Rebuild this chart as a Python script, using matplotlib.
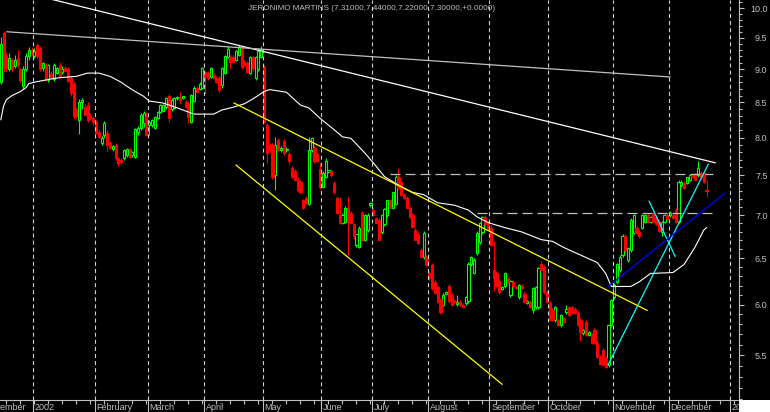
import numpy as np
import matplotlib.pyplot as plt
import matplotlib.transforms as mtransforms
from matplotlib.patches import Rectangle
from matplotlib.ticker import FixedLocator, FixedFormatter, NullFormatter

plt.rcParams['lines.scale_dashes'] = False
plt.rcParams['font.family'] = ['Liberation Sans', 'DejaVu Sans']

# ------------------------
# Daily candles, Dec 2001 .. Dec 2002 (EUR)
# ------------------------
opens = [
    8.80, 9.58, 9.20, 9.00, 9.15, 9.05, 9.17, 9.00, 8.75, 9.00, 9.20, 9.30,
    9.20, 9.38, 9.33, 9.02, 9.06, 8.84, 8.92, 8.85, 8.94, 9.06, 8.95, 9.02, 9.00, 8.86, 8.78, 8.40, 8.24, 8.50, 8.44, 8.46, 8.30, 8.28,
    8.22, 8.08, 7.93, 8.04, 8.07, 7.92, 7.85, 7.90, 7.72, 7.70, 7.73, 7.76, 7.84, 7.76, 7.74, 8.08, 8.13, 8.20, 8.30,
    8.18, 8.17, 8.14, 8.28, 8.36, 8.38, 8.43, 8.60, 8.41, 8.42, 8.56, 8.58, 8.57, 8.51, 8.49, 8.22, 8.52, 8.72, 8.70, 8.72,
    8.95, 8.94, 8.88, 8.91, 8.87, 8.87, 8.76, 8.94, 9.19, 9.19, 9.19, 9.15, 9.23, 9.32, 9.12, 9.10, 8.94, 9.19, 8.87, 9.00, 9.19,
    9.04, 8.17, 7.90, 7.90, 7.50, 7.97, 7.83, 7.95, 7.83, 7.78, 7.59, 7.55, 7.44, 7.41, 7.18, 7.21, 7.14, 7.83, 7.86, 7.78, 7.58,
    7.35, 7.48, 7.54, 7.55, 7.40, 7.21, 7.00, 6.91, 6.92, 7.09, 7.02, 6.89, 6.65, 6.63, 7.03, 6.71, 6.82, 7.12,
    7.06, 6.96, 6.94, 6.80, 6.89, 7.00, 7.18, 7.09, 7.14, 7.48, 7.41, 7.25, 7.21, 7.09, 7.00, 6.82, 6.78, 6.59, 6.51, 6.51,
    6.34, 6.42, 6.24, 6.18, 6.05, 6.00, 6.11, 6.20, 6.10, 6.04, 6.01, 6.03, 6.00, 6.02, 6.04, 6.43, 6.34, 6.56, 6.68, 6.80, 6.98, 6.91,
    6.85, 6.37, 6.34, 6.25, 6.16, 6.19, 6.27, 6.10, 6.24, 6.18, 6.08, 6.20, 6.11, 6.02, 6.03, 5.94, 5.97, 5.97, 6.43, 6.40, 6.13,
    6.02, 5.94, 5.84, 5.84, 5.79, 5.85, 5.92, 5.97, 5.97, 5.95, 5.91, 5.84, 5.71, 5.82, 5.69, 5.69, 5.74, 5.62, 5.48, 5.55, 5.47, 5.41, 5.79,
    6.08, 6.24, 6.37, 6.53, 6.75, 6.48, 6.59, 6.79, 6.85, 6.80, 6.85, 6.92, 7.00, 6.92, 7.02, 6.98, 6.92, 6.80, 6.92, 7.00,
    7.00, 7.00, 7.06, 6.92, 7.37, 7.40, 7.40, 7.44, 7.50, 7.50, 7.50, 7.52, 7.52, 7.31,
]
highs = [
    9.52, 9.62, 9.25, 9.25, 9.18, 9.22, 9.30, 9.02, 9.05, 9.25, 9.35, 9.35,
    9.33, 9.42, 9.36, 9.12, 9.10, 9.08, 8.98, 9.10, 9.04, 9.12, 9.05, 9.05, 9.04, 8.90, 8.80, 8.44, 8.55, 8.56, 8.48, 8.50, 8.34, 8.30,
    8.24, 8.12, 8.02, 8.23, 8.10, 7.95, 7.90, 7.92, 7.74, 7.72, 7.85, 7.86, 7.86, 7.82, 8.14, 8.16, 8.34, 8.38, 8.36,
    8.24, 8.26, 8.30, 8.37, 8.47, 8.48, 8.58, 8.62, 8.56, 8.58, 8.60, 8.66, 8.60, 8.53, 8.52, 8.63, 8.74, 8.74, 8.80, 9.04,
    8.98, 8.97, 9.04, 8.94, 8.89, 8.89, 9.04, 9.22, 9.36, 9.22, 9.22, 9.30, 9.38, 9.35, 9.14, 9.13, 9.21, 9.21, 9.21, 9.33, 9.36,
    9.06, 8.20, 7.93, 7.93, 8.01, 8.00, 7.88, 7.98, 7.87, 7.80, 7.62, 7.58, 7.47, 7.44, 7.20, 7.23, 8.01, 8.01, 7.90, 7.80, 7.66,
    7.55, 7.72, 7.57, 7.58, 7.42, 7.23, 7.22, 7.02, 7.11, 7.22, 7.05, 6.91, 6.78, 6.87, 7.05, 7.01, 7.02, 7.16,
    7.08, 6.98, 6.96, 7.01, 7.09, 7.19, 7.20, 7.29, 7.50, 7.59, 7.43, 7.27, 7.23, 7.11, 7.02, 6.84, 6.80, 6.61, 6.81, 6.53,
    6.36, 6.44, 6.26, 6.20, 6.07, 6.12, 6.14, 6.22, 6.12, 6.06, 6.10, 6.05, 6.02, 6.09, 6.46, 6.52, 6.50, 6.81, 6.92, 6.99, 7.00, 6.93,
    6.88, 6.69, 6.36, 6.27, 6.19, 6.35, 6.29, 6.26, 6.26, 6.20, 6.22, 6.22, 6.13, 6.05, 6.05, 6.18, 6.19, 6.40, 6.47, 6.42, 6.15,
    6.04, 5.96, 5.99, 5.86, 5.90, 5.87, 6.00, 5.99, 5.99, 5.97, 5.93, 5.86, 5.75, 5.84, 5.73, 5.71, 5.76, 5.64, 5.50, 5.57, 5.49, 5.80, 6.06,
    6.23, 6.45, 6.53, 6.77, 6.77, 6.63, 6.96, 7.01, 6.87, 6.82, 7.01, 7.01, 7.02, 6.99, 7.04, 7.00, 6.94, 6.93, 7.01, 7.02,
    7.05, 7.02, 7.08, 7.43, 7.43, 7.42, 7.48, 7.51, 7.52, 7.52, 7.69, 7.55, 7.54, 7.44,
]
lows = [
    8.78, 8.95, 8.98, 8.97, 8.95, 9.02, 9.02, 8.80, 8.70, 8.98, 9.15, 9.20,
    9.18, 9.18, 8.98, 8.98, 8.82, 8.80, 8.85, 8.82, 8.92, 8.86, 8.92, 8.95, 8.80, 8.60, 8.26, 8.28, 8.05, 8.40, 8.30, 8.22, 8.24, 8.18,
    8.05, 7.99, 7.90, 8.00, 7.82, 7.84, 7.82, 7.70, 7.62, 7.64, 7.70, 7.74, 7.72, 7.74, 7.72, 8.04, 8.10, 8.15, 8.02,
    8.04, 8.15, 8.12, 8.26, 8.34, 8.36, 8.41, 8.22, 8.38, 8.40, 8.54, 8.48, 8.55, 8.42, 8.20, 8.20, 8.50, 8.64, 8.68, 8.70,
    8.62, 8.84, 8.86, 8.85, 8.79, 8.66, 8.72, 8.92, 9.17, 9.00, 9.10, 9.13, 9.21, 9.00, 9.05, 8.94, 8.92, 8.97, 8.84, 8.98, 9.17,
    8.20, 7.66, 7.80, 7.45, 7.31, 7.80, 7.80, 7.77, 7.81, 7.64, 7.46, 7.42, 7.29, 7.26, 7.07, 7.14, 7.12, 7.80, 7.66, 7.67, 7.32,
    7.33, 7.46, 7.52, 7.48, 7.26, 7.01, 6.89, 6.89, 6.90, 6.53, 6.89, 6.72, 6.63, 6.61, 6.69, 6.69, 6.80, 7.10,
    6.99, 6.90, 6.70, 6.78, 6.87, 6.98, 7.08, 7.07, 7.12, 7.32, 7.23, 7.20, 7.08, 6.96, 6.85, 6.70, 6.66, 6.50, 6.49, 6.41,
    6.26, 6.15, 6.11, 6.02, 5.90, 5.98, 6.10, 6.02, 5.99, 6.01, 5.99, 5.99, 5.96, 6.00, 6.02, 6.41, 6.32, 6.54, 6.66, 6.78, 6.87, 6.83,
    6.64, 6.14, 6.18, 6.11, 6.15, 6.17, 6.23, 6.08, 6.18, 6.16, 6.06, 6.16, 6.02, 6.01, 5.96, 5.91, 5.95, 5.95, 6.36, 6.11, 6.02,
    5.83, 5.83, 5.82, 5.78, 5.77, 5.81, 5.90, 5.88, 5.90, 5.90, 5.78, 5.63, 5.69, 5.68, 5.68, 5.61, 5.61, 5.47, 5.41, 5.40, 5.38, 5.39, 5.77,
    6.06, 6.22, 6.35, 6.51, 6.57, 6.46, 6.57, 6.77, 6.78, 6.73, 6.83, 6.90, 6.91, 6.90, 6.91, 6.88, 6.80, 6.75, 6.90, 6.94,
    6.98, 6.95, 6.90, 6.90, 7.35, 7.32, 7.38, 7.42, 7.46, 7.43, 7.48, 7.47, 7.40, 7.22,
]
closes = [
    9.40, 9.02, 9.02, 9.18, 9.00, 9.15, 9.07, 8.84, 9.00, 9.20, 9.30, 9.25,
    9.29, 9.20, 9.00, 9.10, 8.84, 9.06, 8.88, 9.06, 9.02, 8.88, 9.00, 8.97, 8.82, 8.64, 8.30, 8.30, 8.51, 8.54, 8.32, 8.25, 8.28, 8.22,
    8.07, 8.01, 8.00, 8.20, 7.90, 7.86, 7.88, 7.73, 7.66, 7.67, 7.83, 7.84, 7.74, 7.80, 8.12, 8.14, 8.32, 8.35, 8.04,
    8.22, 8.25, 8.29, 8.36, 8.46, 8.46, 8.57, 8.28, 8.54, 8.57, 8.58, 8.53, 8.59, 8.43, 8.29, 8.61, 8.72, 8.66, 8.77, 9.02,
    8.88, 8.87, 9.02, 8.87, 8.81, 8.69, 9.02, 9.20, 9.32, 9.12, 9.12, 9.28, 9.35, 9.04, 9.07, 8.96, 9.19, 9.02, 9.19, 9.28, 9.32,
    8.22, 7.79, 7.83, 7.48, 7.90, 7.83, 7.86, 7.79, 7.85, 7.69, 7.48, 7.44, 7.31, 7.28, 7.09, 7.15, 7.83, 7.99, 7.69, 7.69, 7.35,
    7.52, 7.69, 7.56, 7.50, 7.28, 7.03, 6.91, 7.00, 7.09, 6.92, 6.91, 6.75, 6.77, 6.85, 6.71, 7.00, 7.00, 7.15,
    7.00, 6.91, 6.71, 7.00, 7.07, 7.18, 7.09, 7.28, 7.48, 7.34, 7.25, 7.21, 7.09, 6.98, 6.86, 6.71, 6.67, 6.51, 6.79, 6.42,
    6.28, 6.17, 6.12, 6.03, 5.92, 6.10, 6.13, 6.04, 6.00, 6.03, 6.03, 6.00, 5.97, 6.08, 6.43, 6.51, 6.48, 6.79, 6.91, 6.98, 6.89, 6.85,
    6.65, 6.28, 6.19, 6.13, 6.18, 6.34, 6.24, 6.25, 6.19, 6.17, 6.21, 6.17, 6.03, 6.04, 5.97, 6.17, 6.18, 6.39, 6.37, 6.13, 6.03,
    5.84, 5.84, 5.97, 5.79, 5.89, 5.82, 5.95, 5.89, 5.91, 5.91, 5.79, 5.72, 5.74, 5.69, 5.72, 5.62, 5.62, 5.48, 5.42, 5.41, 5.39, 5.79, 6.05,
    6.21, 6.43, 6.51, 6.75, 6.59, 6.61, 6.94, 7.00, 6.79, 6.75, 7.00, 7.00, 6.92, 6.98, 6.92, 6.89, 6.81, 6.92, 7.00, 6.95,
    7.03, 6.96, 6.92, 7.41, 7.41, 7.34, 7.47, 7.50, 7.47, 7.44, 7.59, 7.48, 7.41, 7.30,
]

# moving average (candle index, price)
ma_idx = [0, 1, 2, 4, 7, 9, 10, 13, 18, 21, 27, 31, 35, 39, 43, 45, 48, 51, 53, 58, 63, 69,
          76, 79, 83, 87, 90, 94, 96, 102, 107, 110, 114, 119, 122, 125, 130, 133, 137, 142,
          147, 151, 156, 162, 167, 170, 174, 180, 186, 193, 197, 201, 208, 213, 216, 218,
          225, 228, 232, 240, 244, 248, 251, 252]
ma_val = [8.25, 8.45, 8.54, 8.60, 8.66, 8.72, 8.78, 8.81, 8.85, 8.87, 8.89, 8.94, 8.94, 8.89,
          8.80, 8.74, 8.66, 8.59, 8.52, 8.49, 8.42, 8.33, 8.33, 8.39, 8.43, 8.48, 8.55, 8.66,
          8.69, 8.65, 8.46, 8.42, 8.27, 8.11, 8.01, 7.99, 7.79, 7.66, 7.48, 7.37, 7.28, 7.25,
          7.15, 7.12, 7.06, 6.98, 6.91, 6.85, 6.80, 6.71, 6.69, 6.62, 6.52, 6.45, 6.33, 6.19,
          6.19, 6.24, 6.33, 6.34, 6.43, 6.63, 6.82, 6.85]

# month boundaries (index of first trading day) and labels
month_starts = [-6, 12, 34, 53, 73, 94, 115, 133, 153, 175, 196, 219, 239, 261]
month_labels = ["December", "2002", "February", "March", "April", "May", "June",
                "July", "August", "September", "October", "November", "December", "2003"]

# drawn trendlines: (start index, end index), (start price, end price)
white_x, white_y = [18.3, 255.1], [10.15, 7.66]
gray_x, gray_y = [2.2, 239.0], [9.60, 8.88]
yellow_up_x, yellow_up_y = [83.3, 230.8], [8.49, 5.94]
yellow_lo_x, yellow_lo_y = [84.0, 179.0], [7.63, 5.23]
cyan_a_x, cyan_a_y = [216.9, 252.6], [5.41, 7.64]
cyan_b_x, cyan_b_y = [231.5, 240.8], [7.17, 6.52]
blue_x, blue_y = [216.9, 258.6], [6.19, 7.27]
resist_hi_x, resist_hi_y = [139.0, 254.3], [7.51, 7.51]
resist_lo_x, resist_lo_y = [170.0, 254.3], [7.03, 7.03]

y_major = [5.5, 6.0, 6.5, 7.0, 7.5, 8.0, 8.5, 9.0, 9.5, 10.0]

title = "JERONIMO MARTINS (7.31000,7.44000,7.22000,7.30000,+0.0000)"

n = len(closes)
assert len(opens) == n and len(highs) == n and len(lows) == n, (len(opens), len(highs), len(lows), n)

# ------------------------
# Plot
# ------------------------
GRAY = '#c0c0c0'
FS = 6.5
W, H = 770, 412
fig = plt.figure(figsize=(W / 100, H / 100), dpi=100, facecolor='black')
ax = fig.add_axes([0, 12 / H, 739 / W, 400 / H], facecolor='black')
ax.set_yscale('log')
ax.set_xlim(-0.29, 263.6)
ax.set_ylim(5.09, 10.14)

x = np.arange(n)
o = np.array(opens)
h = np.array(highs)
l = np.array(lows)
c = np.array(closes)
up = c >= o

ax.vlines(x[up], l[up], h[up], color='#00ff00', lw=0.8, zorder=3)
ax.vlines(x[~up], l[~up], h[~up], color='#ff0000', lw=0.8, zorder=3)
ax.bar(x[up], c[up] - o[up], bottom=o[up], width=0.75, facecolor='black',
       edgecolor='#00ff00', lw=0.8, zorder=4)
ax.bar(x[~up], o[~up] - c[~up], bottom=c[~up], width=0.75, facecolor='#ff0000',
       edgecolor='#ff0000', lw=0.8, zorder=4)

# month grid
for m in month_starts:
    ax.axvline(m - 0.5, color='#d0d0d0', lw=0.8, ls=(0, (2.9, 2.2)), zorder=5)

# moving average
ax.plot(ma_idx, ma_val, color='white', lw=0.8, zorder=6)

# trendlines
ax.plot(white_x, white_y, color='white', lw=0.9, zorder=7)
ax.plot(gray_x, gray_y, color=GRAY, lw=0.9, zorder=7)
ax.plot(yellow_up_x, yellow_up_y, color='#ffff00', lw=0.9, zorder=7)
ax.plot(yellow_lo_x, yellow_lo_y, color='#ffff00', lw=0.9, zorder=7)
ax.plot(cyan_a_x, cyan_a_y, color='#00ffff', lw=0.9, zorder=7)
ax.plot(cyan_b_x, cyan_b_y, color='#00ffff', lw=0.9, zorder=7)
ax.plot(blue_x, blue_y, color='#0000ff', lw=0.9, zorder=7)
ax.plot(resist_hi_x, resist_hi_y, color=GRAY, lw=0.9, ls=(0, (7.2, 3.6)), zorder=7)
ax.plot(resist_lo_x, resist_lo_y, color=GRAY, lw=0.9, ls=(0, (7.2, 3.6)), zorder=7)

# axes styling
for s in ['left', 'top']:
    ax.spines[s].set_visible(False)
for s in ['right', 'bottom']:
    ax.spines[s].set_color(GRAY)
    ax.spines[s].set_linewidth(0.8)

ax.yaxis.tick_right()
ax.yaxis.set_major_locator(FixedLocator(y_major))
ax.yaxis.set_major_formatter(FixedFormatter(['%.1f' % v for v in y_major]))
ax.yaxis.set_minor_locator(FixedLocator(np.round(np.arange(5.1, 10.15, 0.1), 2)))
ax.yaxis.set_minor_formatter(NullFormatter())
ax.tick_params(axis='y', which='major', direction='out', length=3.6, width=0.8,
               color=GRAY, labelcolor=GRAY, labelsize=FS, pad=17)
ax.tick_params(axis='y', which='minor', direction='out', length=2.2, width=0.8, color=GRAY)
for t in ax.yaxis.get_majorticklabels():
    t.set_horizontalalignment('right')

ax.xaxis.set_major_locator(FixedLocator([m - 0.5 for m in month_starts]))
ax.xaxis.set_major_formatter(NullFormatter())
ax.xaxis.set_minor_locator(FixedLocator(np.arange(1.9, 263, 5)))
ax.tick_params(axis='x', which='major', direction='out', length=9, width=0.8, color=GRAY)
ax.tick_params(axis='x', which='minor', direction='out', length=3, width=0.8, color=GRAY)

trans = mtransforms.blended_transform_factory(ax.transData, ax.transAxes)
for m, lab in zip(month_starts, month_labels):
    ax.text(m - 0.5 + 0.6, -0.018, lab, transform=trans, color=GRAY, fontsize=FS,
            ha='left', va='center', clip_on=False)

fig.text(248 / W, 1 - 8 / H, title, color=GRAY, fontsize=5.9, ha='left', va='center')

# white corner below the price scale
fig.add_artist(Rectangle((739 / W, 0), 31 / W, 12 / H, transform=fig.transFigure,
                         facecolor='white', edgecolor='none', zorder=10))

fig.savefig('out.png', dpi=100, facecolor='black')
